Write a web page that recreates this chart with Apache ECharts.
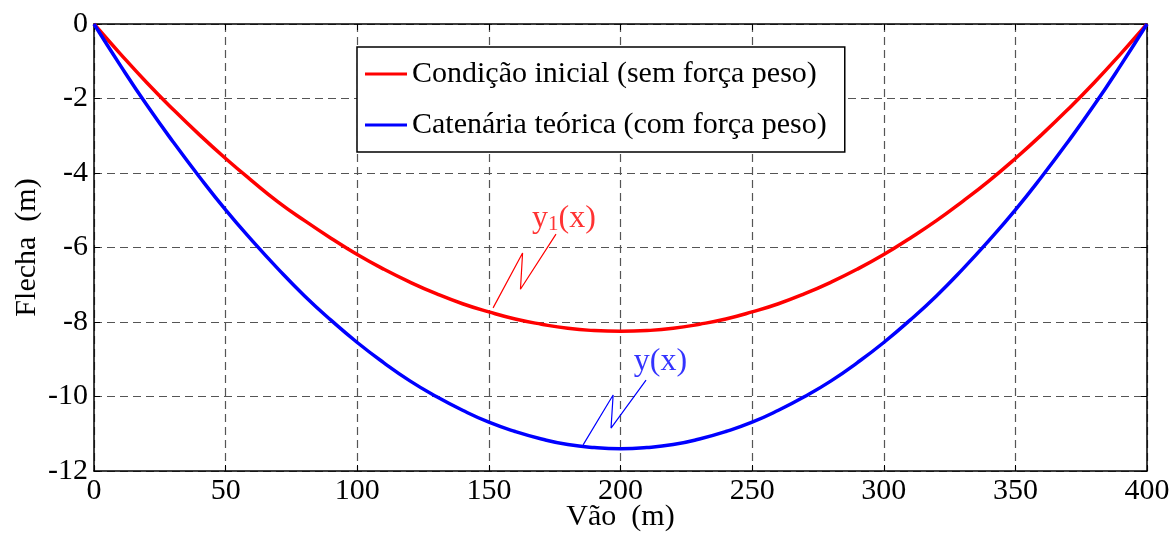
<!DOCTYPE html>
<html>
<head>
<meta charset="utf-8">
<script src="https://cdn.jsdelivr.net/npm/echarts@6/dist/echarts.min.js"></script>
<style>
  html, body { margin: 0; padding: 0; background: #fff; }
  #chart { width: 1173px; height: 535px; }
</style>
</head>
<body>
<div id="chart"></div>
<script>
// span positions (m)
var vao = [0, 10, 20, 30, 40, 50, 60, 70, 80, 90, 100, 110, 120, 130, 140, 150, 160, 170, 180, 190, 200,
  210, 220, 230, 240, 250, 260, 270, 280, 290, 300, 310, 320, 330, 340, 350, 360, 370, 380, 390, 400];
// y1(x) - condição inicial
var flechaInicial = [0, -0.80, -1.57, -2.29, -2.97, -3.61, -4.21, -4.78, -5.28, -5.75, -6.19, -6.58, -6.93, -7.24, -7.51, -7.73, -7.92, -8.06, -8.17, -8.23, -8.25,
  -8.23, -8.17, -8.06, -7.92, -7.73, -7.51, -7.24, -6.93, -6.58, -6.19, -5.75, -5.28, -4.76, -4.21, -3.61, -2.97, -2.29, -1.57, -0.80, 0];
// y(x) - catenária teórica
var flechaCatenaria = [0, -1.11, -2.17, -3.16, -4.10, -4.99, -5.81, -6.58, -7.30, -7.95, -8.55, -9.09, -9.58, -10.00, -10.37, -10.69, -10.94, -11.14, -11.29, -11.37, -11.40,
  -11.37, -11.29, -11.14, -10.94, -10.69, -10.37, -10.00, -9.58, -9.09, -8.55, -7.95, -7.30, -6.58, -5.81, -4.99, -4.10, -3.16, -2.17, -1.11, 0];
var nomes = ['Condição inicial (sem força peso)', 'Catenária teórica (com força peso)'];
// leader lines of the curve labels (data coords)
var guiaY1 = [[151.6, -7.62], [162.8, -6.15], [162.0, -7.12], [175.5, -5.64]];
var guiaY = [[185.8, -11.30], [197.2, -9.96], [196.4, -10.85], [209.7, -9.56]];
var rotuloY1 = [178.5, -5.2];
var rotuloY = [215.2, -9.05];

function pares(xs, ys) {
  var out = [];
  for (var i = 0; i < xs.length; i++) out.push([xs[i], ys[i]]);
  return out;
}

var serif = 'Liberation Serif';
var chart = echarts.init(document.getElementById('chart'));

var gridDash = { type: [8, 5], color: '#555', width: 1.2 };

var option = {
  animation: false,
  textStyle: { fontFamily: serif },
  grid: { left: 94, right: 26, top: 24, bottom: 64, outerBoundsMode: 'none' },
  legend: {
    orient: 'vertical',
    left: 357,
    top: 47,
    data: nomes,
    icon: 'rect',
    itemWidth: 42,
    itemHeight: 3,
    itemGap: 17,
    padding: [10, 18, 10, 8],
    backgroundColor: '#fff',
    borderColor: '#000',
    borderWidth: 1.5,
    textStyle: { fontFamily: serif, fontSize: 30, color: '#000', lineHeight: 34 }
  },
  xAxis: [{
    type: 'value', min: 0, max: 400, interval: 50,
    name: 'Vão  (m)', nameLocation: 'middle', nameGap: 31, nameMoveOverlap: false,
    nameTextStyle: { fontFamily: serif, fontSize: 30, color: '#000' },
    axisLine: { onZero: false, lineStyle: { color: '#000', width: 1.5 } },
    axisTick: { inside: true, length: 6, lineStyle: { color: '#000' } },
    axisLabel: { fontFamily: serif, fontSize: 30, color: '#000', margin: 5 },
    splitLine: { show: true, lineStyle: gridDash }
  }, {
    type: 'value', min: 0, max: 400, interval: 50, position: 'top',
    axisLine: { show: true, onZero: false, lineStyle: { color: '#000', width: 1.5 } },
    axisTick: { inside: true, length: 6, lineStyle: { color: '#000' } },
    axisLabel: { show: false }, splitLine: { show: false }
  }],
  yAxis: [{
    type: 'value', min: -12, max: 0, interval: 2,
    name: 'Flecha  (m)', nameLocation: 'middle', nameGap: 52, nameRotate: 90, nameMoveOverlap: false,
    nameTextStyle: { fontFamily: serif, fontSize: 30, color: '#000' },
    axisLine: { show: true, onZero: false, lineStyle: { color: '#000', width: 1.5 } },
    axisTick: { show: true, inside: true, length: 6, lineStyle: { color: '#000' } },
    axisLabel: { fontFamily: serif, fontSize: 30, color: '#000', margin: 6 },
    splitLine: { show: true, lineStyle: gridDash }
  }, {
    type: 'value', min: -12, max: 0, interval: 2, position: 'right',
    axisLine: { show: true, onZero: false, lineStyle: { color: '#000', width: 1.5 } },
    axisTick: { show: true, inside: true, length: 6, lineStyle: { color: '#000' } },
    axisLabel: { show: false }, splitLine: { show: false }
  }],
  series: [{
    name: nomes[0], type: 'line', data: pares(vao, flechaInicial),
    smooth: true, showSymbol: false, color: '#ff0000',
    lineStyle: { color: '#ff0000', width: 3.5 }, z: 3
  }, {
    name: nomes[1], type: 'line', data: pares(vao, flechaCatenaria),
    smooth: true, showSymbol: false, color: '#0000ff',
    lineStyle: { color: '#0000ff', width: 3.5 }, z: 3
  }, {
    name: 'guia1', type: 'line', data: guiaY1, smooth: 0.35, showSymbol: false,
    lineStyle: { color: '#ff0000', width: 1.2 }, silent: true, z: 4
  }, {
    name: 'guia2', type: 'line', data: guiaY, smooth: 0.35, showSymbol: false,
    lineStyle: { color: '#0000ff', width: 1.2 }, silent: true, z: 4
  }, {
    name: 'rot1', type: 'scatter', data: [rotuloY1], symbolSize: 0, silent: true,
    label: {
      show: true, position: 'inside', formatter: '{a|y}{b|1}{a|(x)}',
      rich: {
        a: { fontFamily: serif, fontSize: 32, color: '#ff0000', verticalAlign: 'bottom', lineHeight: 34 },
        b: { fontFamily: serif, fontSize: 21, color: '#ff0000', verticalAlign: 'bottom', lineHeight: 30 }
      }
    }
  }, {
    name: 'rot2', type: 'scatter', data: [rotuloY], symbolSize: 0, silent: true,
    label: {
      show: true, position: 'inside', formatter: 'y(x)',
      fontFamily: serif, fontSize: 32, color: '#0000ff'
    }
  }]
};
chart.setOption(option);
</script>
</body>
</html>
